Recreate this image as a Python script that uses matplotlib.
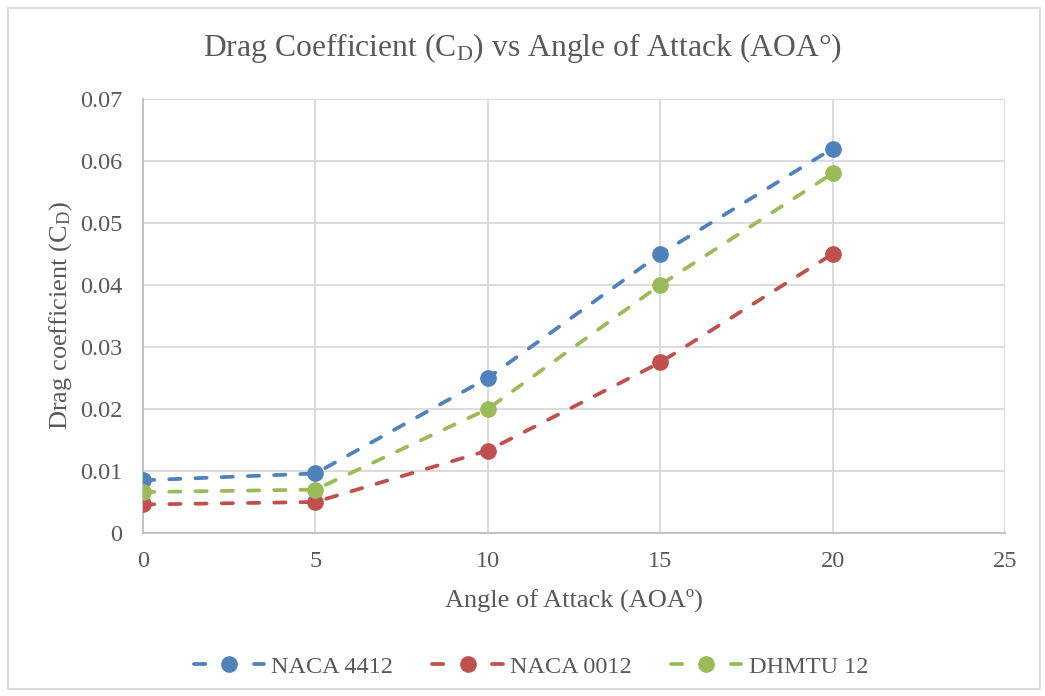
import numpy as np
import matplotlib
matplotlib.use("Agg")
from matplotlib import pyplot as plt
from matplotlib.patches import Rectangle
from matplotlib.lines import Line2D

plt.rcParams['font.family'] = ['Liberation Serif', 'DejaVu Serif']
plt.rcParams['mathtext.fontset'] = 'custom'
plt.rcParams['mathtext.rm'] = 'Liberation Serif'
plt.rcParams['mathtext.it'] = 'Liberation Serif:italic'

aoa = [0, 5, 10, 15, 20]
naca4412 = [0.0085, 0.0096, 0.025, 0.045, 0.062]
naca0012 = [0.0046, 0.0050, 0.0133, 0.0275, 0.045]
dhmtu12 = [0.0066, 0.0070, 0.020, 0.040, 0.058]
labels = ['NACA 4412', 'NACA 0012', 'DHMTU 12']
colors = ['#4F81BD', '#C0504D', '#9BBB59']
text_col = '#595959'
grid_col = '#D9D9D9'

fig = plt.figure(figsize=(10.45, 6.96), dpi=100)
ax = fig.add_axes([0.1368, 0.2342, 0.8249, 0.6236])

for ys, lab, c in zip([naca4412, naca0012, dhmtu12], labels, colors):
    ax.plot(aoa, ys, color=c, lw=2.7, linestyle=(0, (3.0, 4.0)),
            dash_capstyle='round', marker='o', markersize=11, zorder=3)

ax.set_xlim(0, 25)
ax.set_ylim(0, 0.07)
ax.set_xticks([0, 5, 10, 15, 20, 25])
ax.set_yticks(np.arange(0, 0.071, 0.01))
ax.set_yticklabels(['0', '0.01', '0.02', '0.03', '0.04', '0.05', '0.06', '0.07'])
ax.grid(True, color=grid_col, lw=1.3, zorder=0)
ax.set_axisbelow(True)
for s in ['top', 'right']:
    ax.spines[s].set_visible(False)
for s in ['left', 'bottom']:
    ax.spines[s].set_color('#BFBFBF')
    ax.spines[s].set_linewidth(1.3)
ax.tick_params(length=0, labelsize=17.5, labelcolor=text_col)
ax.tick_params(axis='y', pad=15)
ax.tick_params(axis='x', pad=13)

ax.set_xlabel('Angle of Attack (AOAº)', fontsize=19, color=text_col, labelpad=12)
ax.set_ylabel(r'Drag coefficient (C$_\mathrm{D}$)', fontsize=19, color=text_col, labelpad=4)
fig.text(0.5, 0.931, r'Drag Coefficient (C$_\mathrm{D}$) vs Angle of Attack (AOA°)',
         ha='center', va='center', fontsize=22.8, color=text_col)

handles = [Line2D([], [], color=c, lw=2.7, linestyle=(0, (3.0, 13.0)),
                  dash_capstyle='round', marker='o', markersize=11) for c in colors]
fig.legend(handles, labels, loc='center', bbox_to_anchor=(0.508, 0.042), ncol=3,
           frameon=False, fontsize=17.5, labelcolor=text_col, handlelength=2.9,
           columnspacing=1.6, handletextpad=0.3)

fig.add_artist(Rectangle((0.008, 0.01), 0.987, 0.978, transform=fig.transFigure,
                         fill=False, edgecolor=grid_col, lw=1.3))

fig.savefig('out.png', dpi=100)
